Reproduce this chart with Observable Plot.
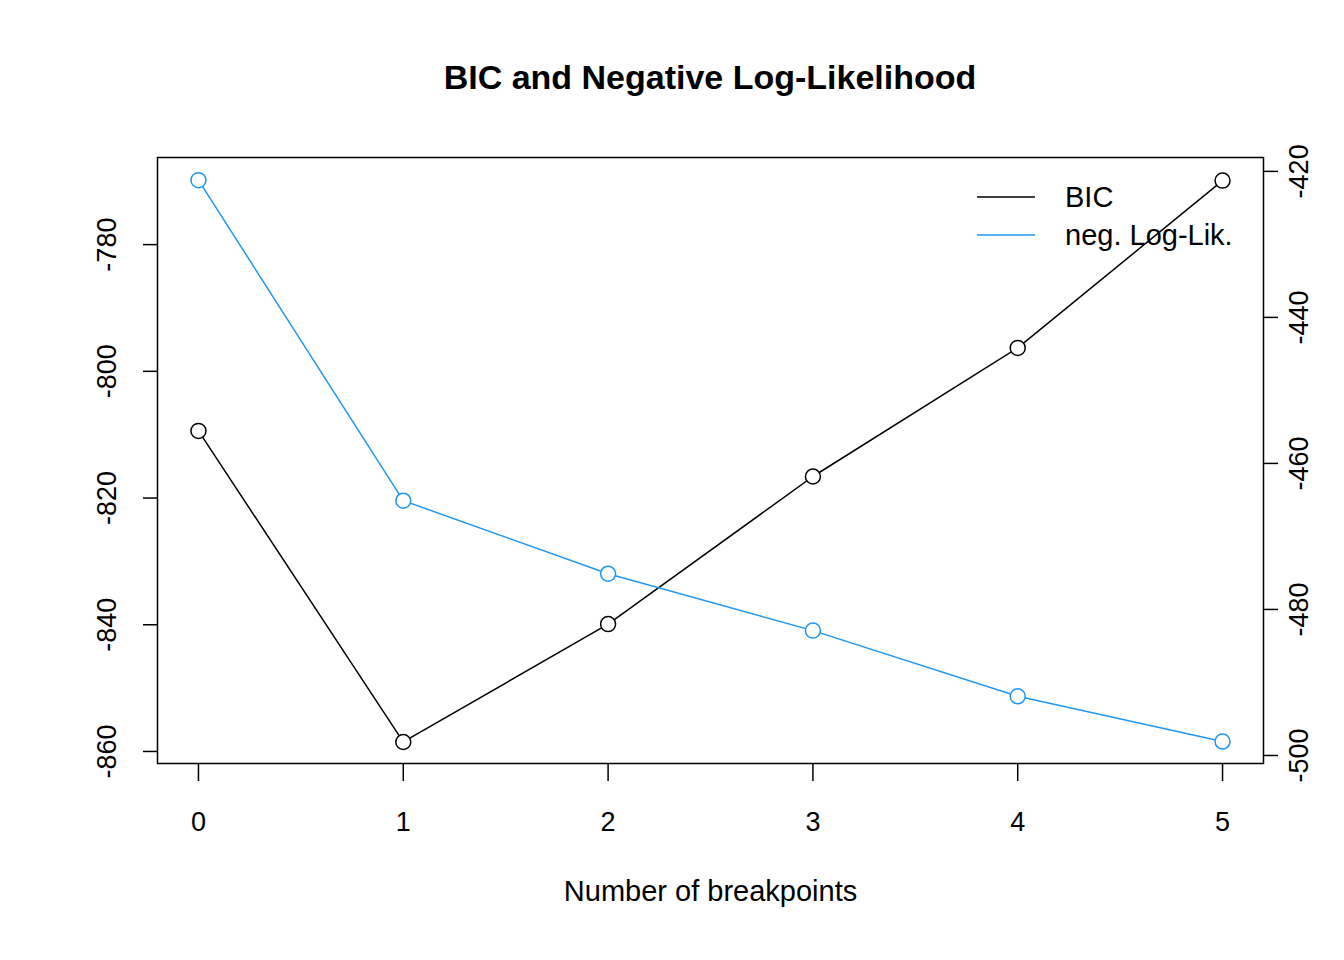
<!DOCTYPE html>
<html><head>
<meta charset="utf-8">
<script src="https://cdn.jsdelivr.net/npm/d3@7"></script>
<script src="https://cdn.jsdelivr.net/npm/@observablehq/plot@0.6"></script>
<style>
body{margin:0;background:#fff;font-family:"Liberation Sans",Arial,sans-serif}
#wrap{position:relative;width:1344px;height:960px}
#title{position:absolute;top:58px;left:38px;width:1344px;text-align:center;font-weight:bold;font-size:34px;z-index:2}
#legend{position:absolute;left:975px;top:178px;font-size:29px;z-index:2}
</style></head><body>
<div id="wrap"><div id="title">BIC and Negative Log-Likelihood</div>
<div id="legend">
<div style="display:flex;align-items:center;height:38px"><svg width="62" height="4"><line x1="2" x2="60" y1="2" y2="2" stroke="#000" stroke-width="1.5"/></svg><span style="margin-left:28px">BIC</span></div>
<div style="display:flex;align-items:center;height:38px"><svg width="62" height="4"><line x1="2" x2="60" y1="2" y2="2" stroke="#2196F3" stroke-width="1.5"/></svg><span style="margin-left:28px">neg. Log-Lik.</span></div>
</div></div>
<script>
const breakpoints=[0,1,2,3,4,5];
const bic=[-809.4,-858.5,-839.9,-816.6,-796.3,-769.9];
const negLogLik=[-421.2,-465.1,-475.1,-482.9,-491.9,-498.1];
const leftTicks=[-860,-840,-820,-800,-780];
const rightTicks=[-500,-480,-460,-440,-420];
const L=[-861.9,-766.25], R=[-501.1,-418.1];
const toLeft=d3.scaleLinear().domain(R).range(L);
const bicData=breakpoints.map((x,i)=>({x,y:bic[i]}));
const llData=breakpoints.map((x,i)=>({x,y:toLeft(negLogLik[i])}));
const rt=rightTicks.map(v=>toLeft(v));
const blue="#2196F3";
const chart=Plot.plot({
 width:1344,height:960,marginLeft:157,marginRight:81,marginTop:157,marginBottom:197,
 style:{fontFamily:"Liberation Sans, Arial, sans-serif",fontSize:"27px",color:"#000",position:"absolute",left:"0",top:"0"},
 x:{domain:[-0.2,5.2]},y:{domain:L},
 marks:[
  Plot.frame({stroke:"#000",strokeWidth:1.5}),
  Plot.axisX(breakpoints,{tickSize:18,tickPadding:30,strokeWidth:1.5,label:null,tickFormat:d=>String(d)}),
  Plot.text(["Number of breakpoints"],{frameAnchor:"bottom",dy:137,fontSize:29}),
  Plot.axisY(leftTicks,{anchor:"left",tickSize:14,tickPadding:28,tickRotate:-90,strokeWidth:1.5,label:null,tickFormat:d=>String(d)}),
  Plot.axisY(rt,{anchor:"right",tickSize:14,tickPadding:30,tickRotate:-90,strokeWidth:1.5,label:null,tickFormat:(d,i)=>String(rightTicks[rt.indexOf(d)])}),
  Plot.line(bicData,{x:"x",y:"y",stroke:"#000",strokeWidth:1.5}),
  Plot.line(llData,{x:"x",y:"y",stroke:blue,strokeWidth:1.5}),
  Plot.dot(bicData,{x:"x",y:"y",r:7.5,fill:"#fff",stroke:"#000",strokeWidth:1.5}),
  Plot.dot(llData,{x:"x",y:"y",r:7.5,fill:"#fff",stroke:blue,strokeWidth:1.5})
 ]});
document.getElementById("wrap").prepend(chart);
</script></body></html>
